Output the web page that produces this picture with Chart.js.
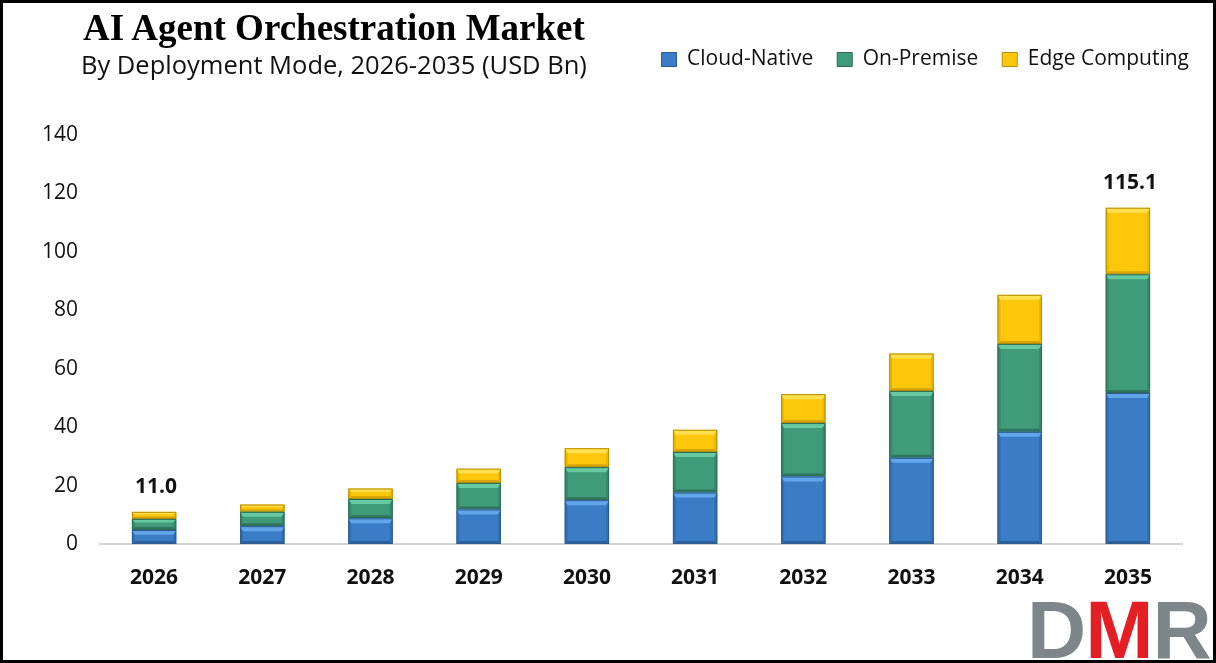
<!DOCTYPE html>
<html>
<head>
<meta charset="utf-8">
<title>AI Agent Orchestration Market</title>
<script src="https://cdn.jsdelivr.net/npm/chart.js@4.4.1/dist/chart.umd.min.js"></script>
<style>
  html, body { margin: 0; padding: 0; background: #fff; }
  #frame { position: relative; width: 1216px; height: 663px; overflow: hidden; background: #fff; }
  #chart-wrap { position: absolute; left: 0; top: 0; width: 1216px; height: 663px; }
  #border { position: absolute; left: 0; top: 0; right: 0; bottom: 0; border: 3px solid #000; box-sizing: border-box; pointer-events: none; }
  .title { position: absolute; left: 83px; top: 9px; font: bold 37px "Liberation Serif", "Times New Roman", serif; line-height: 1; color: #000; white-space: nowrap; }
  .subtitle { position: absolute; left: 81px; top: 52px; font: 25.5px "Open Sans", sans-serif; line-height: 1; color: #111; white-space: nowrap; }
  .logo { position: absolute; left: 1027px; top: 589px; font: bold 82px "Liberation Sans", Arial, sans-serif; line-height: 1; letter-spacing: -1px; white-space: nowrap; }
  .logo .g { color: #7d8689; }
  .logo .r { color: #e31e24; }
</style>
</head>
<body>
<div id="frame">
  <div id="chart-wrap"><canvas id="marketChart"></canvas></div>
  <div class="title">AI Agent Orchestration Market</div>
  <div class="subtitle">By Deployment Mode, 2026-2035 (USD Bn)</div>
  <div class="logo"><span class="g">D</span><span class="r">M</span><span class="g">R</span></div>
  <div id="border"></div>
</div>
<script>
// Значения (USD Bn)
const years = ['2026', '2027', '2028', '2029', '2030', '2031', '2032', '2033', '2034', '2035'];
const cloudNative = [4.8, 6.1, 8.8, 11.8, 15.0, 17.6, 23.1, 29.5, 38.4, 51.7];
const onPremise = [3.8, 4.9, 6.6, 9.1, 11.3, 13.9, 18.3, 22.9, 30.1, 40.6];
const edgeComputing = [2.4, 2.5, 3.6, 4.9, 6.5, 7.6, 9.9, 12.8, 16.8, 22.8];
const seriesNames = ['Cloud-Native', 'On-Premise', 'Edge Computing'];
const yTicks = [0, 20, 40, 60, 80, 100, 120, 140];
const labelledYears = ['2026', '2035'];

// Цвета сегментов: основной, светлая грань, боковая грань, контур
const barStyles = [
    { fill: '#3a7cc6', light: '#62a6ea', side: '#3270b2', bottom: '#2c609a', border: '#2a5b92' },
    { fill: '#3f9b7a', light: '#66c9a1', side: '#378a6c', bottom: '#2f765d', border: '#2c6c55' },
    { fill: '#fdc70c', light: '#ffe04f', side: '#edb800', bottom: '#d9a500', border: '#b98d00' }
];

// Объёмная "фаска" поверх каждого сегмента
const bevelPlugin = {
    id: 'bevel',
    afterDatasetDraw(chart, args) {
        const ctx = chart.ctx;
        const style = barStyles[args.index];
        args.meta.data.forEach(bar => {
            const { x, y, base, width } = bar.getProps(['x', 'y', 'base', 'width'], true);
            const left = x - width / 2;
            const right = x + width / 2;
            const top = Math.min(y, base);
            const bottom = Math.max(y, base);
            const h = bottom - top;
            const b = Math.min(5, h / 3);
            const s = Math.min(3, h / 3);

            ctx.save();
            ctx.fillStyle = style.side;
            ctx.beginPath();
            ctx.moveTo(left, top);
            ctx.lineTo(left + s, top + b);
            ctx.lineTo(left + s, bottom - s);
            ctx.lineTo(left, bottom);
            ctx.closePath();
            ctx.fill();
            ctx.beginPath();
            ctx.moveTo(right, top);
            ctx.lineTo(right - s, top + b);
            ctx.lineTo(right - s, bottom - s);
            ctx.lineTo(right, bottom);
            ctx.closePath();
            ctx.fill();

            ctx.fillStyle = style.bottom;
            ctx.beginPath();
            ctx.moveTo(left, bottom);
            ctx.lineTo(left + s, bottom - s);
            ctx.lineTo(right - s, bottom - s);
            ctx.lineTo(right, bottom);
            ctx.closePath();
            ctx.fill();

            ctx.fillStyle = style.light;
            ctx.beginPath();
            ctx.moveTo(left, top);
            ctx.lineTo(right, top);
            ctx.lineTo(right - s, top + b);
            ctx.lineTo(left + s, top + b);
            ctx.closePath();
            ctx.fill();

            ctx.strokeStyle = style.border;
            ctx.lineWidth = 1;
            ctx.strokeRect(left + 0.5, top + 0.5, width - 1, h - 1);
            ctx.restore();
        });
    }
};

// Подписи итогов над первым и последним столбцом
const totalsPlugin = {
    id: 'totals',
    afterDatasetsDraw(chart) {
        const ctx = chart.ctx;
        const topMeta = chart.getDatasetMeta(chart.data.datasets.length - 1);
        ctx.save();
        ctx.font = 'bold 21px "Open Sans", sans-serif';
        ctx.fillStyle = '#111';
        ctx.textAlign = 'center';
        ctx.textBaseline = 'middle';
        labelledYears.forEach(year => {
            const i = years.indexOf(year);
            const bar = topMeta.data[i];
            const total = cloudNative[i] + onPremise[i] + edgeComputing[i];
            ctx.fillText(total.toFixed(1), bar.x + 2, bar.y - 25);
        });
        ctx.restore();
    }
};

// Легенда справа вверху, область графика ниже неё
const legendPlacement = {
    id: 'legendPlacement',
    beforeLayout(chart) {
        const legend = chart.legend;
        if (legend && !legend._patched) {
            const fit = legend.fit;
            legend.fit = function () {
                fit.call(this);
                this.height = 110;
            };
            legend._patched = true;
        }
    },
    afterLayout(chart) {
        chart.legend.left += 31;
        chart.legend.right += 31;
    }
};

Chart.defaults.font.family = '"Open Sans", sans-serif';
Chart.defaults.color = '#111';

const ctx = document.getElementById('marketChart').getContext('2d');
const seriesValues = [cloudNative, onPremise, edgeComputing];

new Chart(ctx, {
    type: 'bar',
    data: {
        labels: years,
        datasets: seriesValues.map((values, i) => ({
            label: seriesNames[i],
            data: values,
            backgroundColor: barStyles[i].fill,
            borderColor: barStyles[i].border,
            borderWidth: 1,
            barPercentage: 0.41,
            categoryPercentage: 1
        }))
    },
    options: {
        responsive: true,
        maintainAspectRatio: false,
        animation: false,
        devicePixelRatio: 1,
        layout: {
            padding: { top: 25, right: 34, left: 0, bottom: 0 }
        },
        plugins: {
            legend: {
                position: 'top',
                align: 'end',
                labels: {
                    boxWidth: 15,
                    boxHeight: 14,
                    padding: 24,
                    color: '#111',
                    font: { size: 21 }
                }
            },
            tooltip: { enabled: false }
        },
        scales: {
            x: {
                stacked: true,
                grid: { display: false, drawTicks: false },
                border: { display: true, color: '#d4d4d4', width: 2 },
                ticks: {
                    color: '#111',
                    padding: 21,
                    font: { size: 21, weight: 'bold' }
                },
                afterFit(scale) {
                    scale.height = 119;
                }
            },
            y: {
                stacked: true,
                min: 0,
                max: 140,
                grid: { display: false, drawTicks: false },
                border: { display: false },
                ticks: {
                    color: '#111',
                    padding: 22,
                    font: { size: 21 }
                },
                afterBuildTicks(scale) {
                    scale.ticks = yTicks.map(v => ({ value: v }));
                },
                afterFit(scale) {
                    scale.width = 100;
                }
            }
        }
    },
    plugins: [legendPlacement, bevelPlugin, totalsPlugin]
});
</script>
</body>
</html>
